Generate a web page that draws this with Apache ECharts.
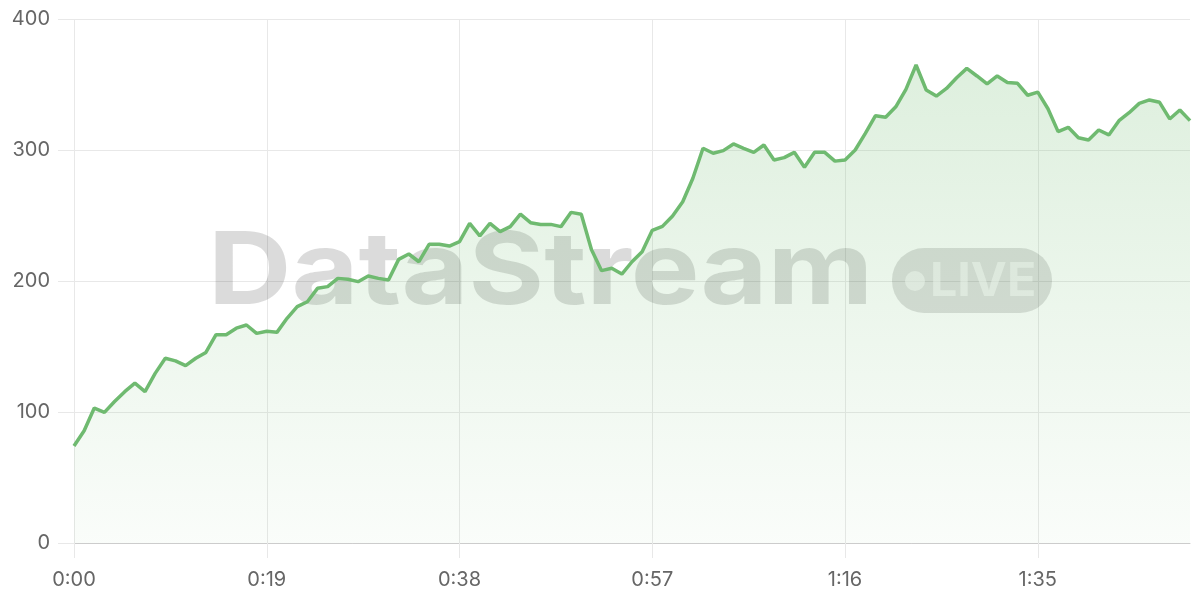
<!DOCTYPE html>
<html>
<head>
<meta charset="utf-8">
<script src="https://cdn.jsdelivr.net/npm/echarts@6/dist/echarts.min.js"></script>
<style>
html,body{margin:0;padding:0;background:#fff;}
#chart{width:1200px;height:600px;}
</style>
</head>
<body>
<div id="chart"></div>
<script>
// seconds elapsed (one sample per second)
var seconds = [];
for (var s = 0; s <= 110; s++) seconds.push(s);
var timeLabels = seconds.map(function (s) {
  var m = Math.floor(s / 60), r = s % 60;
  return m + ':' + (r < 10 ? '0' + r : r);
});
var values = [74, 85.7, 103, 99.7, 108, 115.5, 122, 115.5, 129.5, 141,
  139, 135.4, 141, 145.5, 159, 159, 164, 166.4, 160, 161.6,
  160.8, 171.5, 180.4, 184.2, 194.4, 195.7, 202, 201.3, 199.5, 203.8,
  202, 200.8, 216.5, 220.6, 214.7, 228, 228, 226.7, 230, 244,
  234.5, 244, 237.7, 241.5, 251, 244.5, 243.2, 243.2, 241.5, 252.4,
  250.9, 224, 207.9, 209.7, 205.3, 214.7, 222.4, 238.7, 241.7, 249.6,
  260.5, 278.4, 301.3, 297.5, 299.5, 304.6, 301.3, 298.2, 303.8, 292.4,
  294.2, 298.2, 286.8, 298.2, 298.2, 291.5, 292.4, 300, 312.7, 326.2,
  325, 333, 346.3, 364.9, 345.8, 341.2, 347, 355.2, 362.3, 356.5,
  350.4, 356.5, 351.6, 350.9, 341.8, 344.2, 331.5, 314, 317.3, 309.4,
  307.6, 315.3, 311.5, 322.4, 328.5, 335.6, 338.2, 336.4, 323.7, 330.5, 322.4];
var yTicks = [0, 100, 200, 300, 400];

var chart = echarts.init(document.getElementById('chart'), null, {renderer: 'canvas'});
var gridColor = '#e8e8e8';
chart.setOption({
  animation: false,
  backgroundColor: '#ffffff',
  grid: {left: 74, right: 10, top: 19, bottom: 57, containLabel: false},
  xAxis: {
    type: 'category',
    data: timeLabels,
    boundaryGap: false,
    axisLine: {show: true, lineStyle: {color: '#cccccc', width: 1}},
    axisTick: {show: true, interval: 18, length: 15, lineStyle: {color: gridColor}},
    axisLabel: {interval: 18, color: '#666666', fontSize: 20, fontFamily: 'Inter', margin: 27},
    splitLine: {show: true, interval: 18, lineStyle: {color: gridColor, width: 1}}
  },
  yAxis: {
    type: 'value',
    min: yTicks[0],
    max: yTicks[yTicks.length - 1],
    interval: 100,
    axisLine: {show: false},
    axisTick: {show: true, length: 16, lineStyle: {color: gridColor}},
    axisLabel: {color: '#666666', fontSize: 20, fontFamily: 'Inter', margin: 24},
    splitLine: {show: true, lineStyle: {color: gridColor, width: 1}}
  },
  graphic: [
    {
      type: 'text', z: 1, silent: true,
      x: 208, y: 324, scaleX: 1.09, scaleY: 0.95,
      style: {
        text: 'DataStream', x: 0, y: 0,
        font: 'bold 106px Inter',
        fill: 'rgba(0,0,0,0.14)',
        textAlign: 'left', textVerticalAlign: 'bottom'
      }
    },
    {
      type: 'rect', z: 1, silent: true,
      shape: {x: 892, y: 248, width: 160, height: 65, r: 32},
      style: {fill: 'rgba(0,0,0,0.13)'}
    },
    {
      type: 'circle', z: 1, silent: true,
      shape: {cx: 915, cy: 281, r: 10},
      style: {fill: 'rgba(255,255,255,0.55)'}
    },
    {
      type: 'text', z: 1, silent: true,
      x: 930, y: 282, scaleX: 1.05,
      style: {
        text: 'LIVE', x: 0, y: 0,
        font: 'bold 46px Inter',
        fill: 'rgba(255,255,255,0.55)',
        textAlign: 'left', textVerticalAlign: 'middle'
      }
    }
  ],
  series: [{
    type: 'line',
    data: values,
    z: 3,
    showSymbol: false,
    symbol: 'none',
    smooth: false,
    lineStyle: {color: '#6fba70', width: 3.5},
    itemStyle: {color: '#6fba70'},
    areaStyle: {
      color: new echarts.graphic.LinearGradient(0, 0, 0, 1, [
        {offset: 0, color: 'rgba(108,186,108,0.32)'},
        {offset: 1, color: 'rgba(108,186,108,0.05)'}
      ]),
      origin: 'start'
    }
  }]
});
</script>
</body>
</html>
